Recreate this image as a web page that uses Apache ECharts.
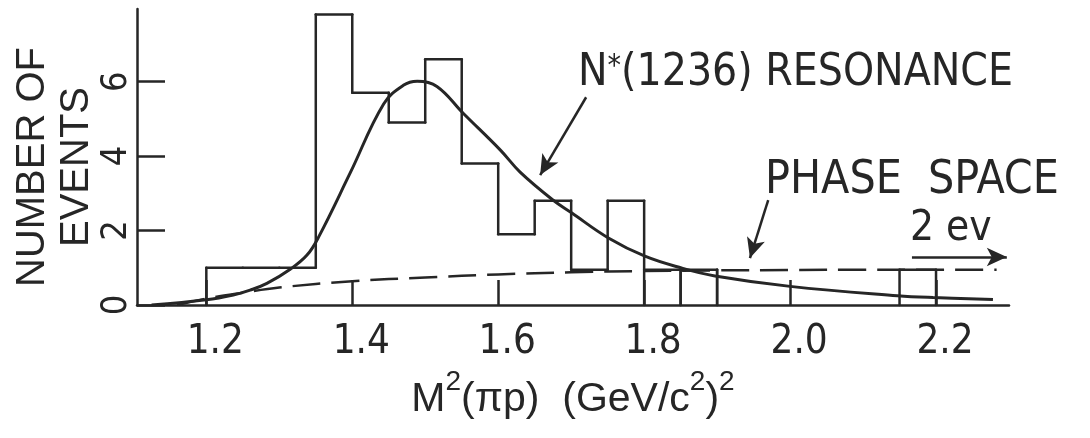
<!DOCTYPE html>
<html>
<head>
<meta charset="utf-8">
<script src="https://cdn.jsdelivr.net/npm/echarts@6/dist/echarts.min.js"></script>
<style>
  html, body { margin: 0; padding: 0; background: #fff; }
  #chart { width: 1090px; height: 438px; }
</style>
</head>
<body>
<div id="chart"></div>
<script>
  // histogram: left edge of each 0.05 bin and the height drawn
  const binLeft = [1.20, 1.25, 1.30, 1.35, 1.40, 1.45, 1.50, 1.55, 1.60, 1.65,
                   1.70, 1.75, 1.80, 1.85, 1.90, 1.95, 2.00, 2.05, 2.10, 2.15];
  const binWidth = 0.05;
  const counts = [1.0, 1.0, 1.0, 7.8, 5.7, 4.9, 6.6, 3.8, 1.9, 2.8,
                  0.95, 2.8, 0.95, 0.95, 0, 0, 0, 0, 0, 0.95];
  // bins drawn as closed boxes down to the axis
  const boxedBins = [1.80, 1.85];

  // N*(1236) resonance curve
  const resonance = [
    [1.125, 0], [1.2, 0.14], [1.237, 0.27], [1.26, 0.40], [1.283, 0.58],
    [1.315, 0.96], [1.338, 1.34], [1.354, 1.83], [1.397, 3.54], [1.443, 5.4],
    [1.47, 5.9], [1.489, 6.01], [1.516, 5.87], [1.552, 5.15], [1.603, 4.16],
    [1.63, 3.57], [1.675, 2.82], [1.701, 2.47], [1.751, 1.8], [1.801, 1.31],
    [1.852, 0.99], [1.897, 0.78], [2.0, 0.5], [2.147, 0.25], [2.196, 0.2],
    [2.278, 0.15]
  ];
  // phase space curve
  const phaseSpace = [
    [1.16, 0], [1.2, 0.17], [1.25, 0.33], [1.3, 0.47], [1.4, 0.64],
    [1.5, 0.74], [1.6, 0.82], [1.7, 0.88], [1.8, 0.91], [1.9, 0.93],
    [2.0, 0.94], [2.1, 0.95], [2.2, 0.95], [2.283, 0.95]
  ];

  const xTicks = [1.2, 1.4, 1.6, 1.8, 2.0, 2.2];
  const yTicks = [0, 2, 4, 6];

  const ink = '#262626';
  const narrow = "'Liberation Sans Narrow', 'DejaVu Sans Condensed', 'Liberation Sans', sans-serif";
  const font = "'Liberation Sans', Arial, sans-serif";

  const chart = echarts.init(document.getElementById('chart'));

  function renderBin(params, api) {
    const i = params.dataIndex;
    const x0 = binLeft[i];
    const x1 = x0 + binWidth;
    const v = counts[i];
    const prev = i > 0 ? counts[i - 1] : 0;
    const boxed = boxedBins.indexOf(x0) >= 0;
    const children = [];
    const seg = (a, b) => {
      const p = api.coord(a), q = api.coord(b);
      children.push({
        type: 'line',
        shape: { x1: p[0], y1: p[1], x2: q[0], y2: q[1] },
        style: { stroke: ink, lineWidth: 2.5, lineCap: 'round' }
      });
    };
    if (v > 0) seg([x0, v], [x1, v]);
    if (boxed) seg([x0, 0], [x0, Math.max(v, prev)]);
    else if (v !== prev) seg([x0, prev], [x0, v]);
    if (boxed || i === counts.length - 1) seg([x1, 0], [x1, v]);
    return { type: 'group', children: children };
  }

  chart.setOption({
    animation: false,
    backgroundColor: '#fff',
    grid: { left: 137, right: 81, top: 9, bottom: 133, outerBoundsMode: 'none', containLabel: false },
    xAxis: {
      type: 'value',
      min: 1.105,
      max: 2.3,
      name: 'M{sup|2}(πp)  (GeV/c{sup|2}){sup|2}',
      nameLocation: 'middle',
      nameGap: 56,
      nameTextStyle: {
        color: ink, fontFamily: font, fontSize: 41, lineHeight: 64,
        rich: { sup: { fontSize: 28, fontFamily: font, color: ink, verticalAlign: 'top', lineHeight: 30 } }
      },
      axisLine: { show: true, lineStyle: { color: ink, width: 2.5 } },
      axisTick: { show: true, inside: true, length: 25, customValues: xTicks, lineStyle: { color: ink, width: 2.5 } },
      axisLabel: {
        customValues: xTicks,
        formatter: v => v.toFixed(1),
        color: ink, fontFamily: narrow, fontSize: 40, margin: 18,
        padding: [0, 0, 0, 18]
      },
      splitLine: { show: false }
    },
    yAxis: {
      type: 'value',
      min: 0,
      max: 7.95,
      name: 'NUMBER OF\nEVENTS',
      nameLocation: 'middle',
      nameRotate: 90,
      nameGap: 38,
      nameMoveOverlap: false,
      nameTextStyle: { color: ink, fontFamily: font, fontSize: 40, lineHeight: 44, padding: [0, 20, 0, 0] },
      axisLine: { show: true, lineStyle: { color: ink, width: 2.5 } },
      axisTick: { show: true, inside: true, length: 28, customValues: yTicks, lineStyle: { color: ink, width: 2.5 } },
      axisLabel: {
        customValues: yTicks,
        rotate: 90,
        color: ink, fontFamily: narrow, fontSize: 36, margin: 2
      },
      splitLine: { show: false }
    },
    graphic: [
      {
        type: 'text', left: 578, top: 52,
        style: {
          text: 'N{sup|*}(1236) RESONANCE',
          fill: ink, font: '44px ' + narrow,
          rich: { sup: { fontSize: 30, fontFamily: narrow, fill: ink, verticalAlign: 'top', lineHeight: 30 } }
        }
      },
      { type: 'text', left: 765, top: 158, style: { text: 'PHASE  SPACE', fill: ink, font: '46px ' + narrow } },
      { type: 'text', left: 910, top: 208, style: { text: '2 ev', fill: ink, font: '42px ' + narrow } }
    ],
    series: [
      {
        type: 'custom',
        renderItem: renderBin,
        data: binLeft.map((x, i) => [x, counts[i]]),
        encode: { x: 0, y: 1 },
        silent: true,
        z: 3
      },
      {
        type: 'line',
        data: resonance,
        smooth: 0.4,
        showSymbol: false,
        silent: true,
        lineStyle: { color: ink, width: 3 },
        z: 4,
        markLine: {
          silent: true,
          symbol: ['none', 'arrow'],
          symbolSize: [14, 20],
          label: { show: false },
          lineStyle: { color: ink, width: 2.5, type: 'solid' },
          data: [
            [{ coord: [1.7205, 5.58] }, { coord: [1.6575, 3.49] }],
            [{ coord: [1.970, 2.82] }, { coord: [1.945, 1.26] }],
            [{ coord: [2.167, 1.29] }, { coord: [2.297, 1.29] }]
          ]
        }
      },
      {
        type: 'line',
        data: phaseSpace,
        smooth: 0.4,
        showSymbol: false,
        silent: true,
        lineStyle: { color: ink, width: 2.5, type: [28, 11] },
        z: 4
      }
    ]
  });
</script>
</body>
</html>
